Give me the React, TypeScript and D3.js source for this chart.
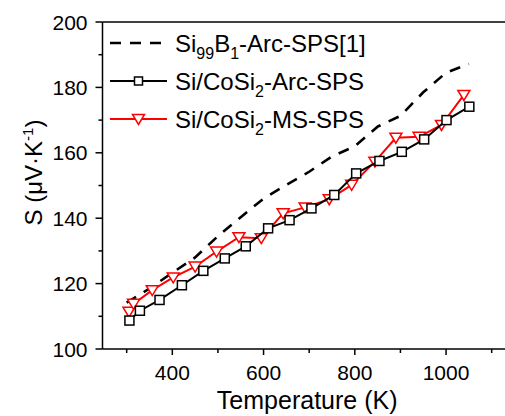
import React from "react";
import * as d3 from "d3";

// Si99B1-Arc-SPS [1] (dashed reference curve)
const refTemp = [300, 350, 400, 450, 500, 550, 600, 650, 700, 750, 800, 850, 900, 950, 1000, 1050];
const refS = [114.2, 118.5, 123.3, 128, 134.5, 140.3, 146, 150.2, 154.2, 158.9, 162, 168, 171.3, 178.5, 184.5, 187.2];

// Si/CoSi2-Arc-SPS
const arcTemp = [306, 329, 372, 421, 468, 515, 561, 610, 657, 705, 755, 803, 854, 903, 952, 1001, 1051];
const arcS = [108.7, 111.7, 115, 119.5, 123.9, 127.7, 131.4, 136.9, 139.4, 143, 147.1, 153.7, 157.5, 160.3, 164.1, 170, 174.1];

// Si/CoSi2-MS-SPS
const msTemp = [305, 315, 356, 402, 450, 497, 546, 595, 643, 691, 744, 793, 844, 890, 941, 990, 1039];
const msS = [111.4, 113.8, 118, 121.9, 125.2, 129.8, 134.2, 133.9, 141.5, 143.3, 145.8, 150.2, 157.3, 164.6, 164.9, 168.5, 177.7];

const xMajor = [400, 600, 800, 1000];
const xMinor = [300, 500, 700, 900, 1100];
const yMajor = [100, 120, 140, 160, 180, 200];
const yMinor = [110, 130, 150, 170, 190];

const FONT = "Arial, 'Liberation Sans', sans-serif";

const App = () => {
  const W = 505;
  const H = 416;
  const x = d3.scaleLinear().domain([247, 1150]).range([102.5, 514.5]);
  const y = d3.scaleLinear().domain([100, 200]).range([349, 22]);

  const line = d3
    .line<[number, number]>()
    .x((d) => x(d[0]))
    .y((d) => y(d[1]));

  const refPts = refTemp.map((t, i) => [t, refS[i]] as [number, number]);
  const arcPts = arcTemp.map((t, i) => [t, arcS[i]] as [number, number]);
  const msPts = msTemp.map((t, i) => [t, msS[i]] as [number, number]);

  const tri = (cx: number, cy: number) =>
    `M${cx - 6},${cy - 4.5}L${cx + 6},${cy - 4.5}L${cx},${cy + 5.5}Z`;

  const x0 = x.range()[0];
  const legendRows = [43, 81, 119];

  return (
    <svg
      width={W}
      height={H}
      style={{ position: "absolute", left: 0, top: 0, background: "#fff" }}
      fontFamily={FONT}
    >
      <rect width={W} height={H} fill="#fff" />

      {/* data */}
      <path d={line(refPts) || ""} fill="none" stroke="#000" strokeWidth={2.6} strokeDasharray="11,9" />
      <path d={line(msPts) || ""} fill="none" stroke="#ff0000" strokeWidth={2} />
      {msPts.map((d, i) => (
        <path key={"m" + i} d={tri(x(d[0]), y(d[1]))} fill="#fff" stroke="#ff0000" strokeWidth={1.5} />
      ))}
      <path d={line(arcPts) || ""} fill="none" stroke="#000" strokeWidth={2} />
      {arcPts.map((d, i) => (
        <rect
          key={"a" + i}
          x={x(d[0]) - 4.5}
          y={y(d[1]) - 4.5}
          width={9}
          height={9}
          fill="#fff"
          stroke="#000"
          strokeWidth={1.5}
        />
      ))}

      {/* frame */}
      <line x1={x0} x2={W + 10} y1={y(200)} y2={y(200)} stroke="#000" strokeWidth={1.5} />
      <line x1={x0} x2={x0} y1={y(200)} y2={y(100)} stroke="#000" strokeWidth={1.5} />
      <line x1={x0} x2={W + 10} y1={y(100)} y2={y(100)} stroke="#000" strokeWidth={1.5} />

      {/* y ticks */}
      {yMajor.map((v) => (
        <g key={"ym" + v}>
          <line x1={x0 - 7} x2={x0} y1={y(v)} y2={y(v)} stroke="#000" strokeWidth={1.5} />
          <text x={x0 - 15} y={y(v)} dy="0.36em" textAnchor="end" fontSize={21}>
            {v}
          </text>
        </g>
      ))}
      {yMinor.map((v) => (
        <line key={"yn" + v} x1={x0 - 4} x2={x0} y1={y(v)} y2={y(v)} stroke="#000" strokeWidth={1.5} />
      ))}

      {/* x ticks */}
      {xMajor.map((v) => (
        <g key={"xm" + v}>
          <line x1={x(v)} x2={x(v)} y1={y(100)} y2={y(100) + 6} stroke="#000" strokeWidth={1.5} />
          <text x={x(v)} y={380} textAnchor="middle" fontSize={21}>
            {v}
          </text>
        </g>
      ))}
      {xMinor.map((v) => (
        <line key={"xn" + v} x1={x(v)} x2={x(v)} y1={y(100)} y2={y(100) + 4} stroke="#000" strokeWidth={1.5} />
      ))}

      {/* axis titles */}
      <text x={(x(300) + x(1100)) / 2 - 2} y={409} textAnchor="middle" fontSize={25}>
        Temperature (K)
      </text>
      <text
        transform="translate(41.5,172.5) rotate(-90)"
        textAnchor="middle"
        fontSize={24}
      >
        S (μV·K
        <tspan fontSize={15} dy={-9}>
          -1
        </tspan>
        <tspan dy={9}>)</tspan>
      </text>

      {/* legend */}
      <line x1={110} x2={167} y1={legendRows[0]} y2={legendRows[0]} stroke="#000" strokeWidth={2.6} strokeDasharray="11,9" />
      <line x1={110} x2={167} y1={legendRows[1]} y2={legendRows[1]} stroke="#000" strokeWidth={2} />
      <rect x={138.5 - 4} y={legendRows[1] - 4} width={8} height={8} fill="#fff" stroke="#000" strokeWidth={1.5} />
      <line x1={110} x2={167} y1={legendRows[2]} y2={legendRows[2]} stroke="#ff0000" strokeWidth={2} />
      <path d={tri(138.5, legendRows[2])} fill="#fff" stroke="#ff0000" strokeWidth={1.5} />

      <text x={175} y={legendRows[0]} dy="0.36em" fontSize={24}>
        Si
        <tspan fontSize={16} dy={7}>99</tspan>
        <tspan dy={-7}>B</tspan>
        <tspan fontSize={16} dy={7}>1</tspan>
        <tspan dy={-7}>-Arc-SPS[1]</tspan>
      </text>
      <text x={175} y={legendRows[1]} dy="0.36em" fontSize={24}>
        Si/CoSi
        <tspan fontSize={16} dy={7}>2</tspan>
        <tspan dy={-7}>-Arc-SPS</tspan>
      </text>
      <text x={175} y={legendRows[2]} dy="0.36em" fontSize={24}>
        Si/CoSi
        <tspan fontSize={16} dy={7}>2</tspan>
        <tspan dy={-7}>-MS-SPS</tspan>
      </text>
    </svg>
  );
};

export default App;
